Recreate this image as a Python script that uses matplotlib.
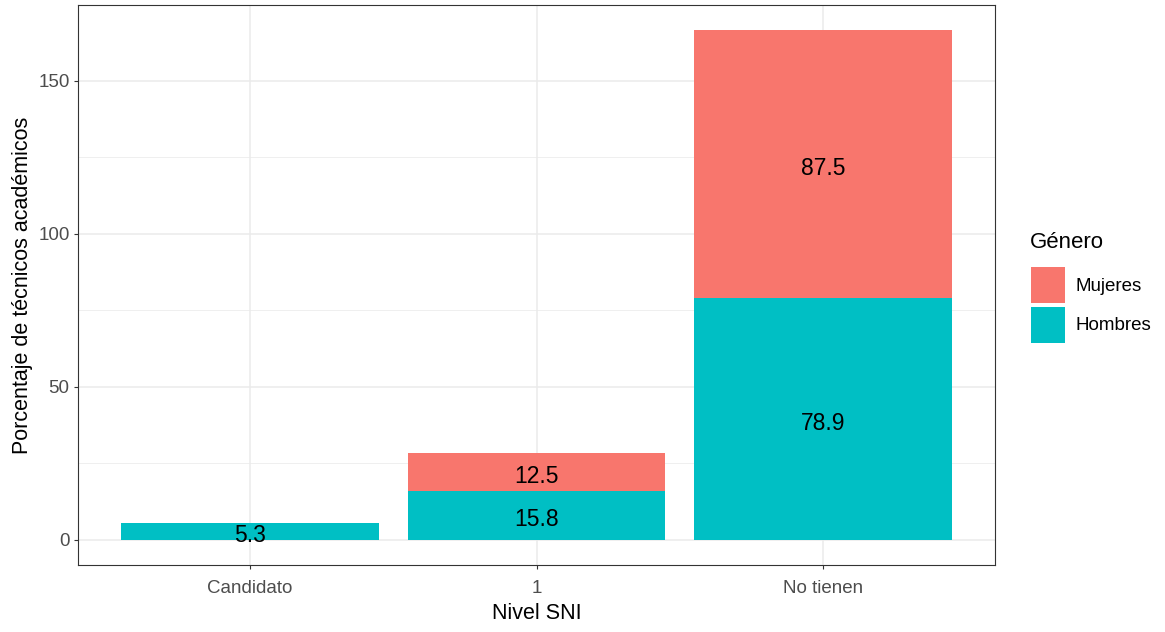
import matplotlib
matplotlib.use("Agg")
import matplotlib.pyplot as plt
from matplotlib.patches import Patch
import numpy as np

plt.rcParams['font.family'] = ['Liberation Sans', 'DejaVu Sans']

# data
niveles = ["Candidato", "1", "No tienen"]
hombres = [5.3, 15.8, 78.9]
mujeres = [0.0, 12.5, 87.5]
generos = ["Mujeres", "Hombres"]
colores = {"Mujeres": "#F8766D", "Hombres": "#00BFC4"}

fig = plt.figure(figsize=(11.65, 6.32), dpi=100)
ax = fig.add_axes([78 / 1165, 67 / 632, 917 / 1165, 560 / 632])

x = np.arange(1, len(niveles) + 1)
h = np.array(hombres)
m = np.array(mujeres)

ax.bar(x, h, width=0.9, color=colores["Hombres"], zorder=2)
ax.bar(x, m, width=0.9, bottom=h, color=colores["Mujeres"], zorder=2)

# labels at middle of each stacked segment
for vals, base in ((h, np.zeros_like(h)), (m, h)):
    for xi, v, b in zip(x, vals, base):
        if v > 0:
            ax.annotate(f"{v:.1f}", (xi, b + v / 2), xytext=(0, -3), textcoords="offset points",
                        ha="center", va="center", fontsize=16.5, color="black", zorder=3)

top = (h + m).max()
ax.set_xlim(0.4, len(niveles) + 0.6)
ax.set_ylim(-0.05 * top, top * 1.05)
ax.set_xticks(x)
ax.set_xticklabels(niveles)
ax.set_yticks([0, 50, 100, 150])
ax.set_yticks([25, 75, 125], minor=True)

ax.grid(True, which="major", color="#EBEBEB", linewidth=1.1, zorder=0)
ax.grid(True, which="minor", axis="y", color="#EBEBEB", linewidth=0.55, zorder=0)
ax.set_axisbelow(True)
for s in ax.spines.values():
    s.set_color("#333333")
    s.set_linewidth(0.8)
ax.tick_params(axis="both", which="major", length=3, width=0.8, color="#333333",
               labelcolor="#4D4D4D", labelsize=13.5, pad=3)
ax.tick_params(axis="x", which="major", pad=8)
ax.tick_params(axis="both", which="minor", length=0)

ax.set_xlabel("Nivel SNI", fontsize=15.5, color="black")
ax.set_ylabel("Porcentaje de técnicos académicos", fontsize=15.5, color="black")
ax.xaxis.set_label_coords(0.5, -0.068)
ax.yaxis.set_label_coords(-0.049, 0.5)

handles = [Patch(facecolor=colores[g], edgecolor="none", label=g) for g in generos]
fig.text(1030 / 1165, 1 - 242 / 632, "Género", fontsize=16, ha="left", va="center")
leg = fig.legend(handles=handles, loc="upper left",
                 bbox_to_anchor=(1014 / 1165, 1 - 250 / 632), frameon=False,
                 fontsize=13.5, handlelength=1.82, handleheight=2.6,
                 labelspacing=0.18, handletextpad=0.55)

fig.savefig("out.png", dpi=100)
